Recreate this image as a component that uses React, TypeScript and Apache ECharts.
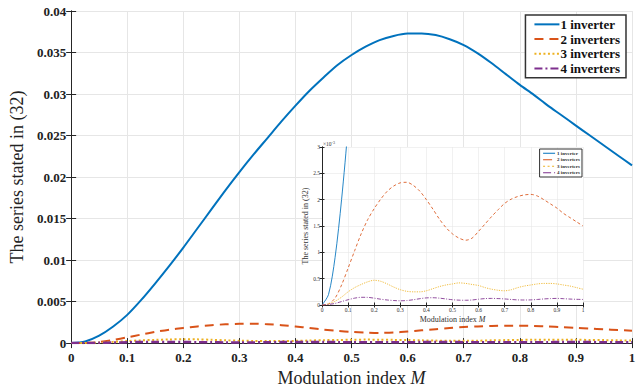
import React, { useEffect, useRef } from "react";
import * as echarts from "echarts";

const M = [0, 0.025, 0.05, 0.075, 0.1, 0.125, 0.15, 0.175, 0.2, 0.225, 0.25, 0.275, 0.3, 0.325, 0.35, 0.375, 0.4, 0.425, 0.45, 0.475, 0.5, 0.525, 0.55, 0.575, 0.6, 0.625, 0.65, 0.675, 0.7, 0.725, 0.75, 0.775, 0.8, 0.825, 0.85, 0.875, 0.9, 0.925, 0.95, 0.975, 1];
const inv1 = [0, 0.0002, 0.0009, 0.002, 0.0034, 0.0052, 0.0072, 0.0093, 0.0115, 0.0138, 0.0161, 0.0184, 0.0206, 0.0227, 0.0247, 0.0267, 0.0286, 0.0304, 0.032, 0.0335, 0.0347, 0.0357, 0.0365, 0.037, 0.03728, 0.0373, 0.0371, 0.0366, 0.0359, 0.0349, 0.0337, 0.0324, 0.0311, 0.0299, 0.0286, 0.02742, 0.0262, 0.025, 0.0238, 0.0226, 0.0214];
const inv2 = [0, 0.00002, 0.00013, 0.00038, 0.0007, 0.00103, 0.00135, 0.00162, 0.00183, 0.00201, 0.00216, 0.00226, 0.00232, 0.00233, 0.00227, 0.00216, 0.002, 0.00182, 0.00163, 0.00147, 0.00135, 0.00127, 0.00123, 0.00127, 0.0014, 0.00154, 0.00168, 0.00181, 0.00193, 0.00201, 0.00206, 0.00209, 0.0021, 0.00207, 0.002, 0.00192, 0.00184, 0.00174, 0.00166, 0.00158, 0.0015];
const inv3 = [0, 0.00002, 0.00007, 0.00015, 0.00025, 0.00033, 0.00039, 0.00044, 0.00047, 0.00045, 0.0004, 0.00034, 0.00029, 0.00026, 0.00025, 0.00025, 0.00027, 0.00031, 0.00035, 0.00038, 0.0004, 0.00042, 0.00041, 0.00039, 0.00037, 0.00033, 0.0003, 0.00028, 0.00027, 0.00029, 0.00033, 0.00036, 0.00038, 0.0004, 0.00041, 0.00041, 0.0004, 0.00038, 0.00036, 0.00033, 0.0003];
const inv4 = [0, 0.00001, 0.00003, 0.000065, 0.0001, 0.00013, 0.000146, 0.000145, 0.00013, 0.00011, 0.000095, 0.000085, 0.00008, 0.000085, 0.0001, 0.00012, 0.000135, 0.000138, 0.00013, 0.000115, 0.0001, 0.000092, 0.00009, 0.000095, 0.00011, 0.000122, 0.000125, 0.000122, 0.000115, 0.000105, 0.000097, 0.000095, 0.000097, 0.000105, 0.000115, 0.000122, 0.000125, 0.00012, 0.000113, 0.000108, 0.000105];

const names = ["1 inverter", "2 inverters", "3 inverters", "4 inverters"];
const colors = ["#0072BD", "#D95319", "#EDB120", "#7E2F8E"];
const seriesValues = [inv1, inv2, inv3, inv4];

const SERIF = "Liberation Serif";
const AX = "#262626";

export default function App() {
  const ref = useRef<HTMLDivElement>(null);
  useEffect(() => {
    if (!ref.current) return;
    const chart = echarts.init(ref.current, null, { renderer: "svg" });

    const mainTypes: any[] = ["solid", [9, 6], [2, 2.5], [8, 3, 2, 3]];
    const mainWidths = [2, 2, 2, 2.5];
    const insetTypes: any[] = ["solid", [3, 2.5], [1.2, 1.2], [4, 1.5, 1, 1.5]];

    const series: any[] = [];
    seriesValues.forEach((vals, i) => {
      series.push({
        type: "line",
        name: names[i],
        xAxisIndex: 0,
        yAxisIndex: 0,
        data: M.map((m, k) => [m, vals[k]]),
        smooth: 0.3,
        symbol: "none",
        z: 2,
        lineStyle: { color: colors[i], width: mainWidths[i], type: mainTypes[i] },
        itemStyle: { color: colors[i] },
      });
    });
    seriesValues.forEach((vals, i) => {
      series.push({
        type: "line",
        name: names[i],
        xAxisIndex: 2,
        yAxisIndex: 2,
        data: M.map((m, k) => [m, vals[k]]),
        smooth: 0.3,
        symbol: "none",
        clip: true,
        z: 6,
        lineStyle: { color: colors[i], width: 1, type: insetTypes[i], opacity: 0.85 },
        itemStyle: { color: colors[i] },
      });
    });

    const tickLabelMain = { fontFamily: SERIF, fontWeight: "bold", fontSize: 13, color: "#222" };
    const tickLabelInset = { fontFamily: SERIF, fontSize: 5.5, color: "#333" };

    const option: any = {
      animation: false,
      backgroundColor: "#fff",
      grid: [
        { left: 68, right: 11, top: 11, bottom: 40, show: false },
        { left: 322, top: 147, width: 261, height: 158, show: true, backgroundColor: "#fff", borderWidth: 0, z: 3 },
      ],
      xAxis: [
        {
          gridIndex: 0, type: "value", min: 0, max: 1, interval: 0.1, position: "bottom",
          axisLine: { show: true, lineStyle: { color: AX, width: 1 } },
          axisTick: { show: true, inside: true, length: 5, lineStyle: { color: AX } },
          axisLabel: { ...tickLabelMain, margin: 8 },
          splitLine: { show: true, lineStyle: { color: "#e6e6e6", width: 1 } },
          name: "Modulation index {i|M}", nameLocation: "middle", nameGap: 22,
          nameTextStyle: { fontFamily: SERIF, fontSize: 18, color: "#222", rich: { i: { fontFamily: SERIF, fontSize: 18, fontStyle: "italic", color: "#222" } } },
        },
        {
          gridIndex: 0, type: "value", min: 0, max: 1, interval: 0.1, position: "top",
          axisLine: { show: true, lineStyle: { color: AX, width: 1 } },
          axisTick: { show: true, inside: true, length: 5, lineStyle: { color: AX } },
          axisLabel: { show: false }, splitLine: { show: false },
        },
        {
          gridIndex: 1, type: "value", min: 0, max: 1, interval: 0.1, position: "bottom", z: 4,
          axisLine: { show: true, lineStyle: { color: AX, width: 1 } },
          axisTick: { show: true, inside: true, length: 2.5, lineStyle: { color: AX } },
          axisLabel: { ...tickLabelInset, margin: 2 },
          splitLine: { show: true, lineStyle: { color: "#e8e8e8", width: 0.6 } },
          name: "Modulation index {i|M}", nameLocation: "middle", nameGap: 10,
          nameTextStyle: { fontFamily: SERIF, fontSize: 8, color: "#333", rich: { i: { fontFamily: SERIF, fontSize: 8, fontStyle: "italic", color: "#333" } } },
        },
        {
          gridIndex: 1, type: "value", min: 0, max: 1, interval: 0.1, position: "top", z: 4,
          axisLine: { show: true, lineStyle: { color: AX, width: 1 } },
          axisTick: { show: true, inside: true, length: 2.5, lineStyle: { color: AX } },
          axisLabel: { show: false }, splitLine: { show: false },
        },
      ],
      yAxis: [
        {
          gridIndex: 0, type: "value", min: 0, max: 0.04, interval: 0.005, position: "left",
          axisLine: { show: true, lineStyle: { color: AX, width: 1 } },
          axisTick: { show: true, inside: true, length: 5, lineStyle: { color: AX } },
          axisLabel: { ...tickLabelMain, margin: 5 },
          splitLine: { show: true, lineStyle: { color: "#e6e6e6", width: 1 } },
          name: "The series stated in (32)", nameLocation: "middle", nameGap: 38,
          nameTextStyle: { fontFamily: SERIF, fontSize: 18, color: "#222" },
        },
        {
          gridIndex: 0, type: "value", min: 0, max: 0.04, interval: 0.005, position: "right",
          axisLine: { show: true, lineStyle: { color: AX, width: 1 } },
          axisTick: { show: true, inside: true, length: 5, lineStyle: { color: AX } },
          axisLabel: { show: false }, splitLine: { show: false },
        },
        {
          gridIndex: 1, type: "value", min: 0, max: 0.003, interval: 0.0005, position: "left", z: 4,
          axisLine: { show: true, lineStyle: { color: AX, width: 1 } },
          axisTick: { show: true, inside: true, length: 2.5, lineStyle: { color: AX } },
          axisLabel: { ...tickLabelInset, margin: 2, formatter: (v: number) => String(+(v * 1000).toFixed(1)) },
          splitLine: { show: true, lineStyle: { color: "#e8e8e8", width: 0.6 } },
          name: "The series stated in (32)", nameLocation: "middle", nameGap: 11,
          nameTextStyle: { fontFamily: SERIF, fontSize: 8, color: "#333" },
        },
        {
          gridIndex: 1, type: "value", min: 0, max: 0.003, interval: 0.0005, position: "right", z: 4,
          axisLine: { show: true, lineStyle: { color: AX, width: 1 } },
          axisTick: { show: true, inside: true, length: 2.5, lineStyle: { color: AX } },
          axisLabel: { show: false }, splitLine: { show: false },
        },
      ],
      legend: [
        {
          data: names, orient: "vertical", right: 17, top: 15, z: 10,
          backgroundColor: "#fff", borderColor: "#333", borderWidth: 1.5, borderRadius: 0,
          padding: [2, 6, 2, 8], itemGap: 0, itemWidth: 25, itemHeight: 12,
          itemStyle: { opacity: 0 },
          textStyle: { fontFamily: SERIF, fontWeight: "bold", fontSize: 13, color: "#111", lineHeight: 14.7, padding: [0, 0, 0, -4] },
          selectedMode: false,
        },
        {
          data: names, orient: "vertical", right: 61, top: 149, z: 10,
          backgroundColor: "#fff", borderColor: "#333", borderWidth: 1, borderRadius: 0,
          padding: [1, 2, 1, 3], itemGap: 0, itemWidth: 12, itemHeight: 5,
          itemStyle: { opacity: 0 },
          lineStyle: { width: 1 },
          textStyle: { fontFamily: SERIF, fontWeight: "bold", fontSize: 5, color: "#333", lineHeight: 6.5, padding: [0, 0, 0, -3] },
          selectedMode: false,
        },
      ],
      graphic: [
        {
          type: "text", left: 323, top: 140, z: 10,
          style: {
            text: "{a|\u00d710}{b|-3}",
            rich: {
              a: { fontFamily: SERIF, fontSize: 5.5, fill: "#333" },
              b: { fontFamily: SERIF, fontSize: 4, fill: "#333", verticalAlign: "top", padding: [0, 0, 3, 0] },
            },
          },
        },
      ],
      series,
    };
    chart.setOption(option);
    return () => chart.dispose();
  }, []);
  return <div ref={ref} style={{ position: "absolute", left: 0, top: 0, width: 643, height: 392 }} />;
}
